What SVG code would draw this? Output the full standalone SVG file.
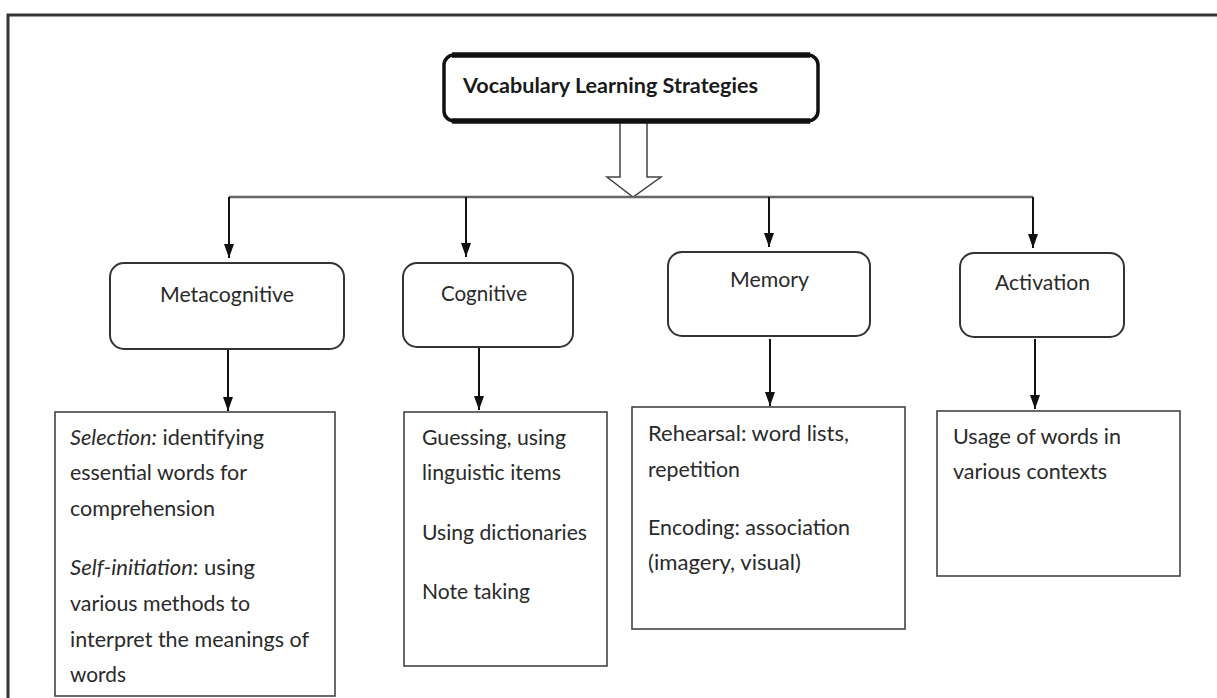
<svg xmlns="http://www.w3.org/2000/svg" width="1217" height="698" viewBox="0 0 1217 698">
<style>
text{font-family:Lato,"Liberation Sans",Arial,sans-serif;fill:#2a2a2a;font-size:20.5px}
.title{font-weight:bold;font-size:21px;fill:#1a1a1a}
.cat{fill:#fff;stroke:#333;stroke-width:2}
.box{fill:#fff;stroke:#444;stroke-width:1.6}
.con{stroke:#111;stroke-width:2;fill:none}
.hl{stroke:#666;stroke-width:2.5;fill:none}
.it{font-style:italic}
</style>
<defs>
<marker id="ah" viewBox="0 0 14 10" refX="14" refY="5" markerWidth="14" markerHeight="10" markerUnits="userSpaceOnUse" orient="auto">
<path d="M0,0 L14,5 L0,10 z" fill="#111"/>
</marker>
</defs>
<rect width="1217" height="698" fill="#fff"/>
<path d="M8,698 L8,15 L1217,15" fill="none" stroke="#333" stroke-width="3"/>

<g id="connectors">
<polygon points="620,122 647,122 647,177 661,177 633,197 607,177 620,177" fill="#fff" stroke="#444" stroke-width="1.5"/>
<path class="hl" d="M229,197 L1033,197"/>
<path class="con" d="M229,197 L229,258" marker-end="url(#ah)"/>
<path class="con" d="M466,197 L466,257" marker-end="url(#ah)"/>
<path class="con" d="M769,197 L769,247" marker-end="url(#ah)"/>
<path class="con" d="M1033,197 L1033,248" marker-end="url(#ah)"/>
<path class="con" d="M228,349 L228,411" marker-end="url(#ah)"/>
<path class="con" d="M479,347 L479,410" marker-end="url(#ah)"/>
<path class="con" d="M770,339 L770,406" marker-end="url(#ah)"/>
<path class="con" d="M1035,339 L1035,409" marker-end="url(#ah)"/>
</g>

<g id="root">
<rect x="444" y="55" width="374" height="66" rx="10" fill="#fff" stroke="#111" stroke-width="3.5"/>
<path d="M452,55 L810,55 M452,121 L810,121" stroke="#111" stroke-width="5.5"/>
<text class="title" x="463" y="93" textLength="295" lengthAdjust="spacingAndGlyphs">Vocabulary Learning Strategies</text>
</g>

<g id="metacognitive">
<rect class="cat" x="110" y="263" width="234" height="86" rx="14"/>
<text x="160" y="302" textLength="134" lengthAdjust="spacingAndGlyphs">Metacognitive</text>
</g>
<g id="cognitive">
<rect class="cat" x="403" y="263" width="170" height="84" rx="14"/>
<text x="441" y="301" textLength="86" lengthAdjust="spacingAndGlyphs">Cognitive</text>
</g>
<g id="memory">
<rect class="cat" x="668" y="252" width="202" height="84" rx="14"/>
<text x="730" y="287" textLength="79" lengthAdjust="spacingAndGlyphs">Memory</text>
</g>
<g id="activation">
<rect class="cat" x="960" y="253" width="164" height="84" rx="14"/>
<text x="995" y="290" textLength="95" lengthAdjust="spacingAndGlyphs">Activation</text>
</g>

<g id="metacognitive-detail">
<rect class="box" x="55" y="412" width="280" height="284"/>
<text x="70" y="445" textLength="194" lengthAdjust="spacingAndGlyphs"><tspan class="it">Selection:</tspan> identifying</text>
<text x="70" y="480" textLength="177" lengthAdjust="spacingAndGlyphs">essential words for</text>
<text x="70" y="516" textLength="145" lengthAdjust="spacingAndGlyphs">comprehension</text>
<text x="70" y="575" textLength="185" lengthAdjust="spacingAndGlyphs"><tspan class="it">Self-initiation</tspan>: using</text>
<text x="70" y="611" textLength="180" lengthAdjust="spacingAndGlyphs">various methods to</text>
<text x="70" y="647" textLength="239" lengthAdjust="spacingAndGlyphs">interpret the meanings of</text>
<text x="70" y="682" textLength="56" lengthAdjust="spacingAndGlyphs">words</text>
</g>

<g id="cognitive-detail">
<rect class="box" x="404" y="412" width="203" height="254"/>
<text x="422" y="445" textLength="144" lengthAdjust="spacingAndGlyphs">Guessing, using</text>
<text x="422" y="480" textLength="139" lengthAdjust="spacingAndGlyphs">linguistic items</text>
<text x="422" y="540" textLength="165" lengthAdjust="spacingAndGlyphs">Using dictionaries</text>
<text x="422" y="599" textLength="108" lengthAdjust="spacingAndGlyphs">Note taking</text>
</g>

<g id="memory-detail">
<rect class="box" x="632" y="407" width="273" height="222" stroke="#222" stroke-width="2"/>
<text x="648" y="441" textLength="201" lengthAdjust="spacingAndGlyphs">Rehearsal: word lists,</text>
<text x="648" y="477" textLength="92" lengthAdjust="spacingAndGlyphs">repetition</text>
<text x="648" y="535" textLength="202" lengthAdjust="spacingAndGlyphs">Encoding: association</text>
<text x="648" y="570" textLength="153" lengthAdjust="spacingAndGlyphs">(imagery, visual)</text>
</g>

<g id="activation-detail">
<rect class="box" x="937" y="411" width="243" height="165"/>
<text x="953" y="444" textLength="168" lengthAdjust="spacingAndGlyphs">Usage of words in</text>
<text x="953" y="479" textLength="154" lengthAdjust="spacingAndGlyphs">various contexts</text>
</g>
</svg>
